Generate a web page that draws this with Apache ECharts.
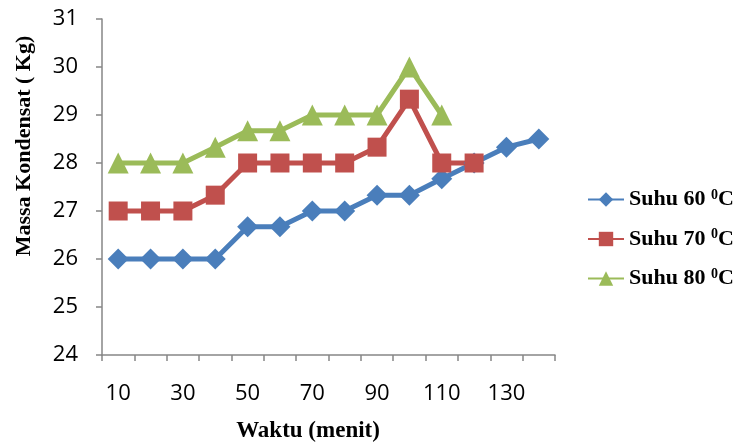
<!DOCTYPE html>
<html><head><meta charset="utf-8">
<script src="https://cdn.jsdelivr.net/npm/echarts@6/dist/echarts.min.js"></script>
<style>html,body{margin:0;padding:0;background:#fff}#c{width:745px;height:443px}</style>
</head><body><div id="c"></div>
<script>
const categories = ['10','20','30','40','50','60','70','80','90','100','110','120','130','140'];
const suhu60 = [26,26,26,26,26.67,26.67,27,27,27.33,27.33,27.67,28,28.33,28.5];
const suhu70 = [27,27,27,27.33,28,28,28,28,28.33,29.33,28,28];
const suhu80 = [28,28,28,28.33,28.67,28.67,29,29,29,30,29];
const yTicks = [24,25,26,27,28,29,30,31];
const seriesNames = ['Suhu 60','Suhu 70','Suhu 80'];

const chart = echarts.init(document.getElementById('c'));
const axisColor = '#868686';
const labelFont = {fontFamily:'Open Sans', fontSize:22, color:'#000'};
const serif = 'Liberation Serif';
function mk(name, data, color, symbol, size){
  return {name, type:'line', data, symbol, symbolSize:size, showSymbol:true,
    lineStyle:{color, width:5}, itemStyle:{color}, emphasis:{disabled:true}, animation:false};
}
chart.setOption({
  animation:false,
  grid:{left:102, top:19, right:190, bottom:88},
  xAxis:{type:'category', data:categories, boundaryGap:true,
    axisLine:{lineStyle:{color:axisColor, width:1.5}},
    axisTick:{show:true, length:6, lineStyle:{color:axisColor, width:1.5}, interval:0},
    axisLabel:Object.assign({interval:1, margin:28}, labelFont)},
  yAxis:{type:'value', min:yTicks[0], max:yTicks[yTicks.length-1], interval:1,
    axisLine:{show:true, lineStyle:{color:axisColor, width:1.5}},
    axisTick:{show:true, length:6, lineStyle:{color:axisColor, width:1.5}},
    splitLine:{show:false},
    axisLabel:Object.assign({margin:24}, labelFont)},
  legend:{orient:'vertical', left:582, top:183, itemGap:17, itemWidth:36, itemHeight:18,
    data:seriesNames,
    formatter: n => '{a|' + n + ' }{s|0}{a|C}',
    textStyle:{rich:{
      a:{fontFamily:serif, fontWeight:'bold', fontSize:22, color:'#000'},
      s:{fontFamily:serif, fontWeight:'bold', fontSize:14, color:'#000', verticalAlign:'top', padding:[0,0,9,0]}
    }}},
  graphic:[
    {type:'text', x:308, y:431, style:{text:'Waktu (menit)', font:'bold 23px "Liberation Serif"', fill:'#000', align:'center', verticalAlign:'middle'}},
    {type:'text', x:24, y:146, rotation:Math.PI/2, style:{text:'Massa Kondensat ( Kg)', font:'bold 22px "Liberation Serif"', fill:'#000', align:'center', verticalAlign:'middle'}}
  ],
  series:[
    mk(seriesNames[0], suhu60, '#4A7EBB', 'diamond', 21),
    mk(seriesNames[1], suhu70, '#C0504D', 'rect', 19),
    mk(seriesNames[2], suhu80, '#9BBB59', 'triangle', 21)
  ]
});
</script></body></html>
